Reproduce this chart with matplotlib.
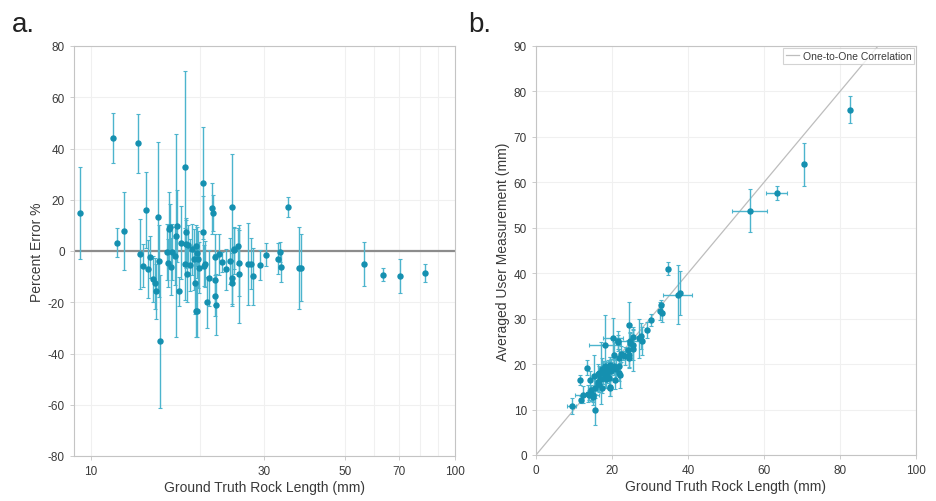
import matplotlib
matplotlib.use("Agg")
import matplotlib.pyplot as plt
from matplotlib.ticker import FixedLocator, NullFormatter
import numpy as np

plt.rcParams['font.family'] = ['Liberation Sans', 'DejaVu Sans']
plt.rcParams['axes.unicode_minus'] = False

# ---------------- Panel a: percent error vs ground truth (log x) ----------------
gt_a = [9.37, 11.5, 11.84, 12.35, 13.49, 13.63, 13.95, 14.16, 14.37, 14.59,
        14.83, 15.0, 15.09, 15.35, 15.41, 15.5, 16.21, 16.35, 16.43, 16.55,
        16.6, 16.75, 17.1, 17.08, 17.3, 17.48, 17.67, 18.16, 18.2, 18.26,
        18.3, 18.4, 18.5, 18.7, 19.0, 19.2, 19.3, 19.4, 19.55, 19.5,
        19.6, 19.7, 19.8, 20.3, 20.4, 20.5, 20.6, 20.8, 21.1, 21.5,
        21.6, 21.9, 21.95, 21.9, 22.1, 22.5, 22.9, 23.5, 24.1, 24.4,
        24.4, 24.5, 24.7, 24.8, 25.4, 25.5, 25.6, 27.1, 27.6, 27.9,
        29.1, 30.2, 32.6, 33.0, 33.2, 34.7, 37.3, 37.9, 56.2, 63.3,
        70.5, 82.6]
pct_err = [14.7, 44.2, 3.2, 7.7, 42.0, -1.2, -5.7, 16.0, -7.0, -2.3,
           -10.9, -12.6, -15.7, 13.1, -3.8, -35.2, -0.5, -4.7, 8.6, 9.5,
           -6.1, -0.5, 6.0, -2.1, 9.8, -15.7, 3.2, 32.9, -5.1, 7.3,
           2.7, -9.0, 2.2, -5.5, 0.6, -3.3, -12.4, -23.6, -23.6, 2.0,
           -0.6, -3.3, -6.5, 26.5, 7.5, -5.7, -5.1, -20.0, -10.6, 16.6,
           15.0, -2.2, -11.2, -17.4, -20.9, -1.3, -4.3, -7.1, -3.9, 17.0,
           -12.4, -10.6, 0.2, 0.8, 2.1, -4.7, -9.0, -5.1, -5.0, -9.9,
           -5.5, -1.5, -3.0, -0.3, -6.1, 17.2, -6.8, -6.5, -4.9, -9.2,
           -9.7, -8.5]
pct_sd = [18.0, 9.7, 5.6, 15.3, 11.6, 13.5, 8.3, 15.0, 11.3, 8.3,
          9.1, 10.0, 10.7, 29.3, 14.0, 26.0, 11.0, 9.4, 14.3, 9.0,
          11.0, 11.0, 39.7, 11.3, 14.0, 5.6, 14.3, 37.5, 14.0, 5.5,
          9.4, 11.0, 8.0, 10.0, 10.0, 12.0, 12.0, 10.0, 10.0, 8.0,
          10.0, 11.0, 10.0, 22.0, 14.0, 8.0, 9.0, 10.0, 11.0, 10.0,
          7.0, 9.0, 10.0, 8.0, 12.0, 8.0, 4.0, 8.0, 9.0, 21.0,
          9.0, 10.0, 9.0, 8.0, 7.0, 13.0, 19.0, 16.0, 10.0, 11.0,
          6.0, 4.5, 6.0, 4.0, 6.0, 4.0, 16.0, 13.0, 8.6, 2.5,
          6.5, 3.5]
xticks_a = [10, 30, 50, 70, 100]
xgrid_a = [10, 20, 30, 50, 60, 70, 80, 90]

# ---------------- Panel b: averaged measurement vs ground truth ----------------
gt_b = [9.37, 11.5, 11.84, 12.35, 13.49, 13.63, 13.95, 14.16, 14.37, 14.59,
        14.83, 15.0, 15.09, 15.35, 15.41, 15.5, 16.21, 16.35, 16.43, 16.55,
        16.6, 16.75, 17.1, 17.08, 17.3, 17.48, 17.67, 18.16, 18.2, 18.26,
        18.3, 18.4, 18.5, 18.7, 19.0, 19.2, 19.3, 19.4, 19.55, 19.5,
        19.6, 19.7, 19.8, 20.3, 20.4, 20.5, 20.6, 20.8, 21.1, 21.5,
        21.6, 21.9, 21.95, 21.9, 22.1, 22.5, 22.9, 23.5, 24.1, 24.4,
        24.4, 24.5, 24.7, 24.8, 25.4, 25.5, 25.6, 27.1, 27.6, 27.9,
        29.1, 30.2, 32.6, 33.0, 33.2, 34.7, 37.3, 37.9, 56.2, 63.3,
        70.5, 82.6]
meas_b = [10.75, 16.6, 12.2, 13.3, 19.2, 13.5, 13.2, 16.4, 13.4, 14.3,
          13.2, 13.1, 12.7, 17.4, 14.8, 10.0, 16.1, 15.6, 17.8, 18.1,
          15.6, 16.7, 18.1, 16.7, 19.0, 14.7, 18.2, 24.1, 17.3, 19.6,
          18.8, 16.7, 18.9, 17.7, 19.1, 18.6, 16.9, 14.8, 14.9, 19.9,
          19.5, 19.0, 18.5, 25.7, 21.9, 19.3, 19.5, 16.6, 18.9, 25.1,
          24.8, 21.4, 19.5, 18.1, 17.5, 22.2, 21.9, 21.8, 23.2, 28.5,
          21.4, 21.9, 24.7, 25.0, 25.9, 24.3, 23.3, 25.7, 26.2, 25.1,
          27.5, 29.7, 31.6, 32.9, 31.2, 41.0, 35.3, 35.6, 53.8, 57.7,
          64.0, 76.0]
meas_sd = [1.7, 1.1, 0.7, 1.9, 1.6, 1.8, 1.2, 2.1, 1.6, 1.2,
           1.35, 1.5, 1.6, 4.5, 2.2, 3.5, 1.8, 1.5, 2.3, 1.5,
           1.8, 1.8, 6.8, 1.9, 2.4, 1.0, 2.5, 6.8, 2.5, 1.0,
           1.7, 2.0, 1.5, 1.9, 1.9, 2.3, 2.3, 1.9, 2.0, 1.6,
           2.0, 2.2, 2.0, 4.5, 2.9, 1.6, 1.9, 2.1, 2.3, 2.2,
           1.5, 2.0, 2.2, 1.75, 2.65, 1.8, 0.9, 1.9, 2.2, 5.1,
           2.2, 2.45, 2.2, 2.0, 1.8, 3.3, 4.9, 4.3, 2.8, 3.1,
           1.75, 1.4, 2.0, 1.3, 2.0, 1.4, 6.4, 4.9, 4.8, 1.5,
           4.7, 2.9]
gt_sd = [1.1, 0.3, 0.3, 2.0, 0.3, 0.4, 0.5, 0.3, 0.6, 0.4,
         0.5, 1.5, 0.4, 0.3, 0.5, 0.3, 0.4, 0.6, 0.5, 0.3,
         0.5, 0.4, 0.5, 0.6, 0.4, 0.3, 0.5, 4.2, 0.4, 0.5,
         0.4, 0.5, 0.3, 0.5, 0.4, 0.6, 0.5, 0.4, 0.5, 0.3,
         0.4, 0.5, 0.4, 2.6, 0.5, 0.4, 0.3, 0.5, 0.4, 0.6,
         0.5, 0.4, 0.5, 0.4, 0.5, 0.4, 0.3, 0.5, 0.4, 0.5,
         0.5, 0.4, 0.5, 3.3, 0.4, 0.5, 0.4, 0.5, 0.4, 0.5,
         0.5, 0.4, 0.5, 0.4, 0.5, 0.4, 3.8, 0.5, 4.7, 2.7,
         0.5, 0.3]

dot_c = '#1590b0'
bar_c = '#4cb4cd'
grid_c = '#f0f0f0'
spine_c = '#c4c4c4'
text_c = '#3a3a3a'

fig = plt.figure(figsize=(9.37, 5.02), dpi=100)
axa = fig.add_axes([74/937, 45/502, 381/937, 410/502])
axb = fig.add_axes([536/937, 46/502, 380/937, 409/502])

def style(ax):
    for s in ax.spines.values():
        s.set_color(spine_c)
        s.set_linewidth(0.8)
    ax.tick_params(colors=spine_c, labelcolor=text_c, labelsize=8.5,
                   direction='out', length=3, width=0.6)
    ax.set_axisbelow(True)

# panel a
axa.set_xscale('log')
axa.axhline(0, color='#8c8c8c', lw=1.6, zorder=1)
axa.errorbar(gt_a, pct_err, yerr=pct_sd, fmt='o', ms=3.6, color=dot_c,
             mfc=dot_c, mec=dot_c, ecolor=bar_c, elinewidth=1.0,
             capsize=1.3, capthick=0.8, zorder=3)
axa.set_xlim(9, 100)
axa.set_ylim(-80, 80)
axa.xaxis.set_major_locator(FixedLocator(xticks_a))
axa.xaxis.set_minor_locator(FixedLocator(xgrid_a))
axa.xaxis.set_minor_formatter(NullFormatter())
axa.set_xticklabels([str(v) for v in xticks_a])
axa.set_yticks(np.arange(-80, 81, 20))
for v in xgrid_a:
    axa.axvline(v, color=grid_c, lw=0.8, zorder=0)
axa.yaxis.grid(True, color=grid_c, lw=0.8)
style(axa)
axa.tick_params(axis='x', which='minor', length=0)
axa.set_xlabel('Ground Truth Rock Length (mm)', fontsize=10, color=text_c, labelpad=2)
axa.set_ylabel('Percent Error %', fontsize=10, color=text_c, labelpad=3)

# panel b
axb.plot([0, 100], [0, 100], color='#bdbdbd', lw=0.9, zorder=1,
         label='One-to-One Correlation')
axb.errorbar(gt_b, meas_b, xerr=gt_sd, yerr=meas_sd, fmt='o', ms=3.6,
             color=dot_c, mfc=dot_c, mec=dot_c, ecolor=bar_c, elinewidth=1.0,
             capsize=1.3, capthick=0.8, zorder=3)
axb.set_xlim(0, 100)
axb.set_ylim(0, 90)
axb.set_xticks(np.arange(0, 101, 20))
axb.set_yticks(np.arange(0, 91, 10))
axb.grid(True, color=grid_c, lw=0.8)
style(axb)
axb.set_xlabel('Ground Truth Rock Length (mm)', fontsize=10, color=text_c, labelpad=2)
axb.set_ylabel('Averaged User Measurement (mm)', fontsize=10, color=text_c, labelpad=3)
leg = axb.legend(loc='upper right', fontsize=7.5, frameon=True, fancybox=False,
                 borderpad=0.3, handlelength=1.2, handletextpad=0.4,
                 borderaxespad=0.15)
leg.get_frame().set_edgecolor('#c8c8c8')
leg.get_frame().set_linewidth(0.8)
for t in leg.get_texts():
    t.set_color(text_c)

fig.text(12/937, 1 - 25/502, 'a.', fontsize=20, color='#222222', va='center', ha='left')
fig.text(468/937, 1 - 25/502, 'b.', fontsize=20, color='#222222', va='center', ha='left')

fig.savefig('out.png', dpi=100)
